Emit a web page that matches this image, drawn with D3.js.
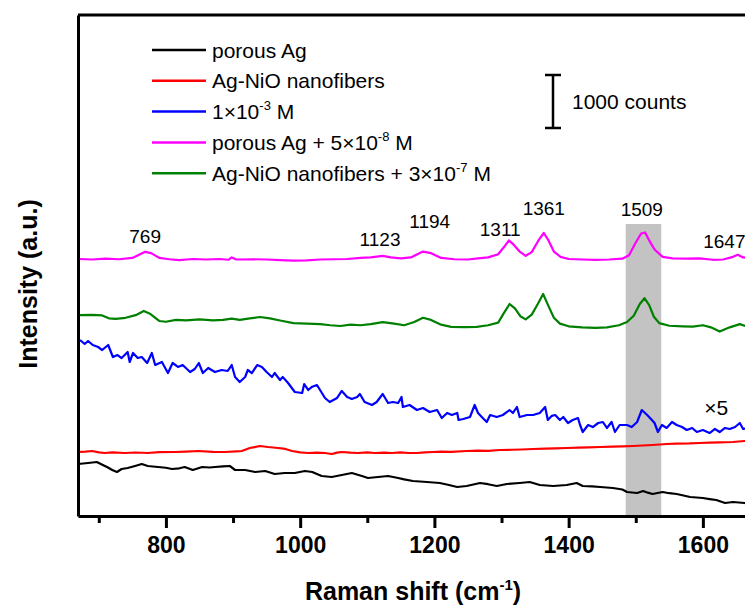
<!DOCTYPE html>
<html>
<head>
<meta charset="utf-8">
<script src="https://cdn.jsdelivr.net/npm/d3@7/dist/d3.min.js"></script>
<style>
  html, body { margin: 0; padding: 0; background: #ffffff; }
  svg { display: block; font-family: "Liberation Sans", Arial, sans-serif; }
</style>
</head>
<body>
<svg id="chart" width="745" height="605"></svg>
<script>
// ---------------- data (Raman shift in cm^-1, intensity in counts, offset stacked) -------------
const seriesNames = ["porous Ag", "Ag-NiO nanofibers", "1×10", "porous Ag + 5×10", "Ag-NiO nanofibers + 3×10"];
const seriesSup = ["", "", "-3", "-8", "-7"];
const seriesSuffix = ["", "", " M", " M", " M"];
const seriesColors = ["#000000", "#ff0000", "#0000ff", "#ff00ff", "#008000"];

const porousAg = [[669,981],[684,1000],[697,1019],[706,962],[713,920],[720,868],[727,830],[734,887],[743,906],[754,944],[764,981],[773,944],[788,925],[800,910],[809,887],[820,900],[828,925],[840,868],[854,925],[865,915],[873,925],[885,935],[895,944],[903,868],[918,868],[933,830],[948,849],[962,793],[977,811],[992,811],[1007,849],[1018,830],[1032,755],[1047,736],[1062,774],[1077,811],[1092,755],[1101,717],[1116,736],[1131,755],[1146,717],[1155,690],[1168,660],[1189,642],[1208,623],[1220,590],[1234,547],[1248,566],[1268,623],[1280,600],[1293,566],[1308,604],[1327,623],[1342,642],[1357,585],[1377,566],[1397,585],[1412,623],[1421,566],[1435,560],[1447,547],[1466,528],[1480,500],[1487,453],[1502,434],[1511,472],[1518,440],[1525,415],[1540,453],[1550,430],[1561,415],[1581,359],[1600,340],[1610,320],[1620,302],[1633,245],[1645,264],[1662,245],[1680,240]];

const agNiO = [[669,1208],[680,1215],[690,1227],[700,1200],[709,1189],[720,1200],[739,1189],[755,1198],[773,1189],[790,1205],[813,1208],[830,1215],[848,1227],[870,1210],[888,1208],[905,1220],[913,1227],[925,1283],[932,1300],[940,1321],[952,1302],[967,1283],[978,1265],[988,1227],[1000,1200],[1012,1189],[1025,1195],[1037,1189],[1047,1170],[1055,1195],[1062,1208],[1075,1195],[1086,1189],[1100,1200],[1111,1189],[1125,1195],[1137,1189],[1149,1200],[1161,1189],[1174,1189],[1186,1200],[1198,1208],[1210,1215],[1225,1210],[1248,1227],[1265,1235],[1280,1230],[1298,1245],[1315,1250],[1330,1255],[1347,1264],[1365,1270],[1380,1275],[1397,1283],[1415,1290],[1430,1295],[1447,1302],[1465,1310],[1480,1315],[1496,1321],[1510,1330],[1525,1340],[1546,1359],[1560,1365],[1580,1370],[1595,1378],[1610,1385],[1625,1390],[1645,1396],[1662,1415],[1680,1420]];

const conc1e3 = [[672,3321],[679,3246],[684,3302],[691,3227],[699,3189],[705,3132],[714,3227],[721,3000],[728,3038],[734,2981],[743,3095],[746,2906],[751,3076],[758,2981],[764,3000],[772,2887],[779,3076],[784,2849],[794,2906],[803,2698],[810,2887],[818,2812],[825,2849],[836,2717],[843,2774],[849,2887],[855,2698],[863,2793],[873,2717],[883,2755],[892,2736],[898,2849],[903,2623],[910,2529],[918,2623],[922,2755],[928,2698],[936,2849],[943,2812],[950,2717],[958,2623],[962,2698],[970,2566],[974,2623],[982,2510],[992,2340],[1003,2321],[1006,2490],[1012,2378],[1018,2440],[1025,2472],[1037,2227],[1044,2151],[1055,2227],[1062,2359],[1070,2246],[1077,2208],[1085,2246],[1089,2302],[1096,2151],[1107,2095],[1114,2151],[1123,2302],[1131,2132],[1138,2151],[1146,2132],[1151,2246],[1153,2057],[1163,2095],[1174,2000],[1183,2038],[1193,1962],[1204,2000],[1211,1849],[1219,1944],[1226,1906],[1234,1944],[1236,1812],[1243,1830],[1253,1868],[1260,2095],[1265,1944],[1272,1849],[1278,1774],[1283,1906],[1293,1868],[1302,1906],[1312,2000],[1317,1944],[1323,2057],[1327,1868],[1338,1906],[1347,1906],[1357,1944],[1365,2057],[1369,1812],[1375,1890],[1380,1906],[1387,1812],[1392,1868],[1399,1755],[1406,1812],[1414,1849],[1417,1717],[1421,1585],[1429,1717],[1436,1679],[1444,1755],[1451,1774],[1457,1661],[1464,1774],[1469,1585],[1476,1717],[1487,1717],[1494,1679],[1502,1774],[1509,2000],[1517,1906],[1524,1812],[1528,1755],[1533,1585],[1539,1717],[1546,1661],[1554,1774],[1561,1717],[1569,1679],[1576,1623],[1584,1661],[1591,1585],[1600,1623],[1610,1566],[1618,1642],[1625,1585],[1633,1661],[1640,1642],[1648,1679],[1655,1755],[1660,1642],[1670,1660]];

const porousAgR6G = [[670,4850],[690,4840],[710,4855],[730,4845],[750,4870],[760,4930],[769,4985],[778,4960],[790,4870],[805,4845],[820,4830],[840,4850],[860,4840],[880,4850],[893,4835],[898,4880],[905,4840],[930,4845],[950,4840],[970,4830],[990,4820],[1010,4825],[1030,4840],[1050,4845],[1070,4850],[1090,4870],[1105,4880],[1123,4910],[1135,4880],[1150,4860],[1165,4880],[1183,4990],[1195,4960],[1210,4870],[1230,4845],[1250,4840],[1265,4860],[1280,4880],[1295,4940],[1304,5080],[1311,5200],[1318,5120],[1327,4990],[1336,4910],[1345,4980],[1355,5200],[1363,5340],[1370,5200],[1378,4990],[1388,4890],[1400,4850],[1420,4840],[1440,4835],[1460,4840],[1480,4855],[1490,4920],[1500,5160],[1508,5330],[1514,5350],[1520,5200],[1528,5030],[1540,4890],[1555,4860],[1575,4855],[1595,4860],[1615,4835],[1630,4840],[1645,4890],[1652,4930],[1660,4880],[1675,4860]];

const agNiOR6G = [[670,3790],[690,3795],[705,3785],[715,3730],[725,3720],[740,3740],[755,3790],[767,3870],[777,3810],[790,3680],[800,3665],[815,3700],[830,3690],[850,3710],[870,3690],[885,3700],[898,3725],[910,3700],[925,3730],[940,3755],[955,3730],[970,3690],[990,3640],[1010,3630],[1030,3620],[1045,3600],[1060,3585],[1075,3610],[1090,3600],[1105,3620],[1123,3660],[1140,3630],[1155,3600],[1170,3660],[1183,3740],[1195,3700],[1210,3610],[1225,3570],[1245,3565],[1263,3570],[1280,3600],[1295,3650],[1303,3820],[1312,4000],[1320,3920],[1328,3770],[1336,3710],[1345,3800],[1354,4000],[1362,4190],[1370,3960],[1378,3740],[1387,3630],[1400,3580],[1420,3560],[1440,3550],[1457,3560],[1475,3600],[1487,3660],[1497,3780],[1506,4000],[1513,4110],[1520,3980],[1527,3760],[1535,3640],[1550,3590],[1570,3580],[1585,3575],[1600,3600],[1612,3560],[1625,3480],[1640,3560],[1655,3620],[1670,3560]];

const seriesData = [porousAg, agNiO, conc1e3, porousAgR6G, agNiOR6G];

const majorTicks = [800, 1000, 1200, 1400, 1600];
const minorTicks = [700, 900, 1100, 1300, 1500, 1700];

const peakLabels = ["769", "1123", "1194", "1311", "1361", "1509", "1647"];
const peakLabelX = [769, 1119, 1193, 1298, 1363, 1509, 1632];
const peakLabelY = [5150, 5090, 5430, 5280, 5680, 5660, 5050];

const bandRange = [1485, 1538];
const bandTop = 5510;
const scaleBarCounts = 1000;

// ---------------- layout ----------------
const svg = d3.select("#chart");
const mLeft = 78, mRight = 770, mTop = 15, mBottom = 516;

const x = d3.scaleLinear().domain([669, 1700]).range([mLeft, mRight]);
const y = d3.scaleLinear().domain([0, 9454]).range([mBottom, mTop]);

// gray highlight band
svg.append("rect")
  .attr("x", x(bandRange[0]))
  .attr("width", x(bandRange[1]) - x(bandRange[0]))
  .attr("y", y(bandTop))
  .attr("height", y(0) - y(bandTop))
  .attr("fill", "#c3c3c3");

// curves
const line = d3.line().x(d => x(d[0])).y(d => y(d[1]));
seriesData.forEach((s, i) => {
  svg.append("path")
    .attr("d", line(s))
    .attr("fill", "none")
    .attr("stroke", seriesColors[i])
    .attr("stroke-width", 2.2)
    .attr("stroke-linejoin", "round");
});

// top frame line
svg.append("line")
  .attr("x1", mLeft).attr("x2", mRight)
  .attr("y1", mTop).attr("y2", mTop)
  .attr("stroke", "#000").attr("stroke-width", 3);

// left axis (no ticks)
const yAxisG = svg.append("g")
  .attr("transform", `translate(${mLeft},0)`)
  .call(d3.axisLeft(y).tickValues([]).tickSizeOuter(0));
yAxisG.select(".domain").attr("stroke", "#000").attr("stroke-width", 3);

// bottom axis minor
const xMinor = svg.append("g")
  .attr("transform", `translate(0,${mBottom})`)
  .call(d3.axisBottom(x).tickValues(minorTicks).tickSize(7).tickSizeOuter(0).tickFormat(""));
xMinor.select(".domain").remove();
xMinor.selectAll(".tick line").attr("stroke", "#000").attr("stroke-width", 3);

// bottom axis major
const xAxisG = svg.append("g")
  .attr("transform", `translate(0,${mBottom})`)
  .call(d3.axisBottom(x).tickValues(majorTicks).tickSize(12).tickSizeOuter(0).tickFormat(d3.format("d")));
xAxisG.select(".domain").attr("stroke", "#000").attr("stroke-width", 3);
xAxisG.selectAll(".tick line").attr("stroke", "#000").attr("stroke-width", 3);
xAxisG.selectAll(".tick text")
  .attr("font-family", "'Liberation Sans', Arial, sans-serif")
  .attr("font-size", 23).attr("font-weight", "bold").attr("fill", "#000")
  .attr("dy", null).attr("y", 37);

// axis titles
const xt = svg.append("text")
  .attr("x", 413).attr("y", 600)
  .attr("text-anchor", "middle")
  .attr("font-size", 25).attr("font-weight", "bold");
xt.append("tspan").text("Raman shift (cm");
xt.append("tspan").text("-1").attr("font-size", 15).attr("dy", -10);
xt.append("tspan").text(")").attr("dy", 10);

svg.append("text")
  .attr("transform", "translate(37,284) rotate(-90)")
  .attr("text-anchor", "middle")
  .attr("font-size", 25).attr("font-weight", "bold")
  .text("Intensity (a.u.)");

// peak labels
peakLabels.forEach((t, i) => {
  svg.append("text")
    .attr("x", x(peakLabelX[i])).attr("y", y(peakLabelY[i]))
    .attr("text-anchor", "middle")
    .attr("font-size", 19)
    .text(t);
});

// ×5 label
svg.append("text")
  .attr("x", x(1602)).attr("y", y(1906))
  .attr("font-size", 21)
  .text("×5");

// legend
const legX = 152, legY = 50, legStep = 30.8;
seriesNames.forEach((n, i) => {
  const yy = legY + i * legStep;
  svg.append("line")
    .attr("x1", legX).attr("x2", legX + 54)
    .attr("y1", yy).attr("y2", yy)
    .attr("stroke", seriesColors[i]).attr("stroke-width", 2.5);
  const t = svg.append("text")
    .attr("x", legX + 60).attr("y", yy + 7.5)
    .attr("font-size", 21);
  t.append("tspan").text(n);
  if (seriesSup[i]) {
    t.append("tspan").text(seriesSup[i]).attr("font-size", 13).attr("dy", -9);
    t.append("tspan").text(seriesSuffix[i]).attr("dy", 9);
  }
});

// scale bar (1000 counts)
const sbX = 553, sbTop = 75;
const sbLen = y(0) - y(scaleBarCounts);
svg.append("line").attr("x1", sbX).attr("x2", sbX).attr("y1", sbTop).attr("y2", sbTop + sbLen)
  .attr("stroke", "#000").attr("stroke-width", 2.5);
[sbTop, sbTop + sbLen].forEach(yy => {
  svg.append("line").attr("x1", sbX - 8).attr("x2", sbX + 8).attr("y1", yy).attr("y2", yy)
    .attr("stroke", "#000").attr("stroke-width", 2.5);
});
svg.append("text")
  .attr("x", 572).attr("y", sbTop + sbLen / 2 + 8)
  .attr("font-size", 21)
  .text(scaleBarCounts + " counts");
</script>
</body>
</html>
